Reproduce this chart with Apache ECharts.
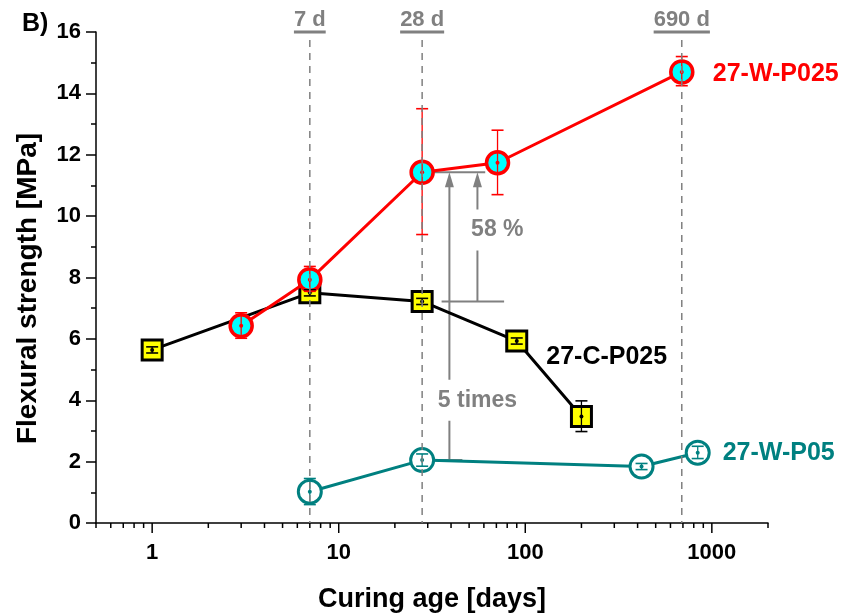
<!DOCTYPE html>
<html>
<head>
<meta charset="utf-8">
<title>Flexural strength vs curing age</title>
<script src="https://cdn.jsdelivr.net/npm/echarts@6/dist/echarts.min.js"></script>
<style>
  html, body { margin: 0; padding: 0; background: #fff; }
  #chart { width: 846px; height: 614px; }
</style>
</head>
<body>
<div id="chart"></div>
<script>
// ---- data ----
const wP025Days = [3, 7, 28, 71, 690];
const wP025Vals = [6.43, 7.93, 11.43, 11.74, 14.7];
const wP025Low  = [6.02, 7.55, 9.4, 10.7, 14.25];
const wP025High = [6.85, 8.36, 13.5, 12.8, 15.2];

const cP025Days = [1, 7, 28, 90, 200];
const cP025Vals = [5.64, 7.5, 7.22, 5.93, 3.47];
const cP025Low  = [5.54, 7.4, 7.12, 5.83, 2.98];
const cP025High = [5.74, 7.6, 7.32, 6.03, 3.98];

const wP05Days = [7, 28, 420, 840];
const wP05Vals = [1.02, 2.05, 1.84, 2.29];
const wP05Low  = [0.6, 1.85, 1.74, 2.1];
const wP05High = [1.45, 2.25, 1.94, 2.5];

// reference ages marked with dashed lines
const refAges = [7, 28, 690];
const refAgeLabels = ['7 d', '28 d', '690 d'];

// x-axis ticks (log scale)
const xMajorTicks = [1, 10, 100, 1000];
const xMinorTicks = [0.5, 0.6, 0.7, 0.8, 0.9, 2, 3, 4, 5, 6, 7, 8, 9,
  20, 30, 40, 50, 60, 70, 80, 90, 200, 300, 400, 500, 600, 700, 800, 900, 2000];

// comparison guides: [from day, to day, level]
const guideLevels = [[28, 61, 11.43], [35.6, 77, 7.22], [28, 46, 2.05]];
// comparison arrows: [day, from level, to level, label, label day, label level]
const guideArrows = [
  [55.4, 7.22, 11.43, '58 %', 70.8, 9.55],
  [39.2, 2.05, 11.43, '5 times', 55.4, 4.0]
];

const FONT = '"Liberation Sans", Arial, sans-serif';
const GREY = '#808080';

function zip3(d, l, h, v) { return d.map((x, i) => [x, l[i], h[i], v[i]]); }
function pairs(d, v) { return d.map((x, i) => [x, v[i]]); }

// error bars with caps and a centre dot
function errorBarSeries(data, color, capW, dotColor) {
  return {
    type: 'custom', silent: true, z: 6, data: data,
    renderItem: function (params, api) {
      const top = api.coord([api.value(0), api.value(2)]);
      const bot = api.coord([api.value(0), api.value(1)]);
      const mid = api.coord([api.value(0), api.value(3)]);
      const st = { stroke: color, lineWidth: 1.3 };
      return {
        type: 'group', children: [
          { type: 'line', shape: { x1: top[0], y1: top[1], x2: bot[0], y2: bot[1] }, style: st },
          { type: 'line', shape: { x1: top[0] - capW / 2, y1: top[1], x2: top[0] + capW / 2, y2: top[1] }, style: { stroke: color, lineWidth: 1.6 } },
          { type: 'line', shape: { x1: bot[0] - capW / 2, y1: bot[1], x2: bot[0] + capW / 2, y2: bot[1] }, style: { stroke: color, lineWidth: 1.6 } },
          { type: 'circle', shape: { cx: mid[0], cy: mid[1], r: 2 }, style: { fill: dotColor } }
        ]
      };
    }
  };
}

// measure label widths for the underline
const mctx = document.createElement('canvas').getContext('2d');
mctx.font = 'bold 22px ' + FONT;

const chart = echarts.init(document.getElementById('chart'), null, { renderer: 'canvas' });

const option = {
  animation: false,
  backgroundColor: '#ffffff',
  textStyle: { fontFamily: FONT },
  grid: { left: 96, right: 78, top: 32, bottom: 91, containLabel: false, outerBoundsMode: 'none' },
  graphic: [
    { type: 'text', left: 22, top: 12, style: { text: 'B)', font: 'bold 25px ' + FONT, fill: '#000' } }
  ],
  xAxis: {
    type: 'log', logBase: 10, min: 0.5, max: 2000,
    name: 'Curing age [days]', nameLocation: 'middle', nameGap: 63,
    nameTextStyle: { fontSize: 27, fontWeight: 'bold', color: '#000', fontFamily: FONT },
    axisLine: { lineStyle: { color: '#000', width: 1.5 } },
    axisTick: { show: false },
    minorTick: { show: false },
    splitLine: { show: false },
    minorSplitLine: { show: false },
    axisLabel: {
      margin: 19, fontSize: 22, fontWeight: 'bold', color: '#000', fontFamily: FONT,
      showMinLabel: false, showMaxLabel: false,
      formatter: function (v) {
        const l = Math.log10(v);
        if (v >= 1 && Math.abs(l - Math.round(l)) < 1e-6) return String(Math.round(v));
        return '';
      }
    }
  },
  yAxis: {
    type: 'value', min: 0, max: 16, interval: 2,
    name: 'Flexural strength [MPa]', nameLocation: 'middle', nameGap: 54,
    nameTextStyle: { fontSize: 28, fontWeight: 'bold', color: '#000', fontFamily: FONT, padding: [0, 22, 0, 0] },
    axisLine: { show: true, lineStyle: { color: '#000', width: 1.5 } },
    axisTick: { show: true, length: 10, lineStyle: { color: '#000', width: 1.5 } },
    minorTick: { show: true, splitNumber: 2, length: 5, lineStyle: { color: '#000', width: 1.5 } },
    splitLine: { show: false },
    axisLabel: { margin: 15, fontSize: 22, fontWeight: 'bold', color: '#000', fontFamily: FONT }
  },
  series: [
    // x-axis ticks drawn at the decade and sub-decade positions
    {
      type: 'custom', silent: true, clip: false, z: 3,
      data: xMajorTicks.map(v => [v, 0, 10]).concat(xMinorTicks.map(v => [v, 0, 5])),
      renderItem: function (params, api) {
        const p = api.coord([api.value(0), 0]);
        return { type: 'line', shape: { x1: p[0], y1: p[1], x2: p[0], y2: p[1] + api.value(2) }, style: { stroke: '#000', lineWidth: 1.5 } };
      }
    },
    // black: 27-C-P025
    {
      name: '27-C-P025', type: 'line', z: 3,
      data: pairs(cP025Days, cP025Vals).map((p, i) => i === 3 ? {
        value: p,
        label: { show: true, position: 'right', distance: 18, offset: [0, 16], formatter: '27-C-P025',
          fontSize: 25, fontWeight: 'bold', color: '#000', fontFamily: FONT }
      } : p),
      symbol: 'rect', symbolSize: 20,
      lineStyle: { color: '#000', width: 3 },
      itemStyle: { color: '#ffff00', borderColor: '#000', borderWidth: 3 }
    },
    errorBarSeries(zip3(cP025Days, cP025Low, cP025High, cP025Vals), '#000', 12, '#000'),
    // red: 27-W-P025
    {
      name: '27-W-P025', type: 'line', z: 4,
      data: pairs(wP025Days, wP025Vals),
      symbol: 'circle', symbolSize: 22,
      lineStyle: { color: '#ff0000', width: 3 },
      itemStyle: { color: '#00ffff', borderColor: '#ff0000', borderWidth: 3.5 },
      endLabel: { show: true, formatter: '27-W-P025', distance: 16, offset: [15, 2],
        fontSize: 25, fontWeight: 'bold', color: '#ff0000', fontFamily: FONT }
    },
    errorBarSeries(zip3(wP025Days, wP025Low, wP025High, wP025Vals), '#ff0000', 12, '#ff0000'),
    // teal: 27-W-P05
    {
      name: '27-W-P05', type: 'line', z: 4,
      data: pairs(wP05Days, wP05Vals),
      symbol: 'circle', symbolSize: 23,
      lineStyle: { color: '#008080', width: 3 },
      itemStyle: { color: '#ffffff', borderColor: '#008080', borderWidth: 3 },
      endLabel: { show: true, formatter: '27-W-P05', distance: 10, offset: [15, 0],
        fontSize: 25, fontWeight: 'bold', color: '#008080', fontFamily: FONT }
    },
    errorBarSeries(zip3(wP05Days, wP05Low, wP05High, wP05Vals), '#008080', 12, '#008080'),
    // comparison guides
    {
      type: 'custom', silent: true, z: 2,
      data: guideLevels,
      renderItem: function (params, api) {
        const a = api.coord([api.value(0), api.value(2)]);
        const b = api.coord([api.value(1), api.value(2)]);
        return { type: 'line', shape: { x1: a[0], y1: a[1], x2: b[0], y2: b[1] }, style: { stroke: GREY, lineWidth: 2 } };
      }
    },
    {
      type: 'custom', silent: true, z: 2,
      data: guideArrows,
      dimensions: ['x', 'from', 'to', 'label', 'lx', 'ly'],
      encode: { x: 0, y: 1 },
      renderItem: function (params, api) {
        const d = guideArrows[params.dataIndex];
        const a = api.coord([d[0], d[1]]);
        const b = api.coord([d[0], d[2]]);
        const t = api.coord([d[4], d[5]]);
        return {
          type: 'group', children: [
            { type: 'line', shape: { x1: a[0], y1: a[1], x2: b[0], y2: b[1] + 12 }, style: { stroke: GREY, lineWidth: 2 } },
            { type: 'polygon', shape: { points: [[b[0], b[1]], [b[0] - 4.5, b[1] + 15], [b[0] + 4.5, b[1] + 15]] }, style: { fill: GREY } },
            { type: 'text', x: t[0], y: t[1], style: {
              text: d[3], font: 'bold 23px ' + FONT, fill: GREY, align: 'center', verticalAlign: 'middle',
              backgroundColor: '#ffffff', padding: [9, 1] } }
          ]
        };
      }
    },
    // reference ages: dashed verticals with underlined captions
    {
      type: 'custom', silent: true, clip: false, z: 8,
      data: refAges.map(v => [v, 0]),
      renderItem: function (params, api) {
        const p = api.coord([api.value(0), 0]);
        const top = params.coordSys.y;
        const label = refAgeLabels[params.dataIndex];
        const w = mctx.measureText(label).width;
        return {
          type: 'group', children: [
            { type: 'line', shape: { x1: p[0], y1: top + 8, x2: p[0], y2: p[1] },
              style: { stroke: GREY, lineWidth: 1.5, lineDash: [7, 6] } },
            { type: 'text', x: p[0], y: top - 12, style: {
              text: label, font: 'bold 22px ' + FONT, fill: GREY, align: 'center', verticalAlign: 'middle' } },
            { type: 'rect', shape: { x: p[0] - w / 2, y: top - 1.5, width: w, height: 3 }, style: { fill: GREY } }
          ]
        };
      }
    }
  ]
};

chart.setOption(option);
</script>
</body>
</html>
